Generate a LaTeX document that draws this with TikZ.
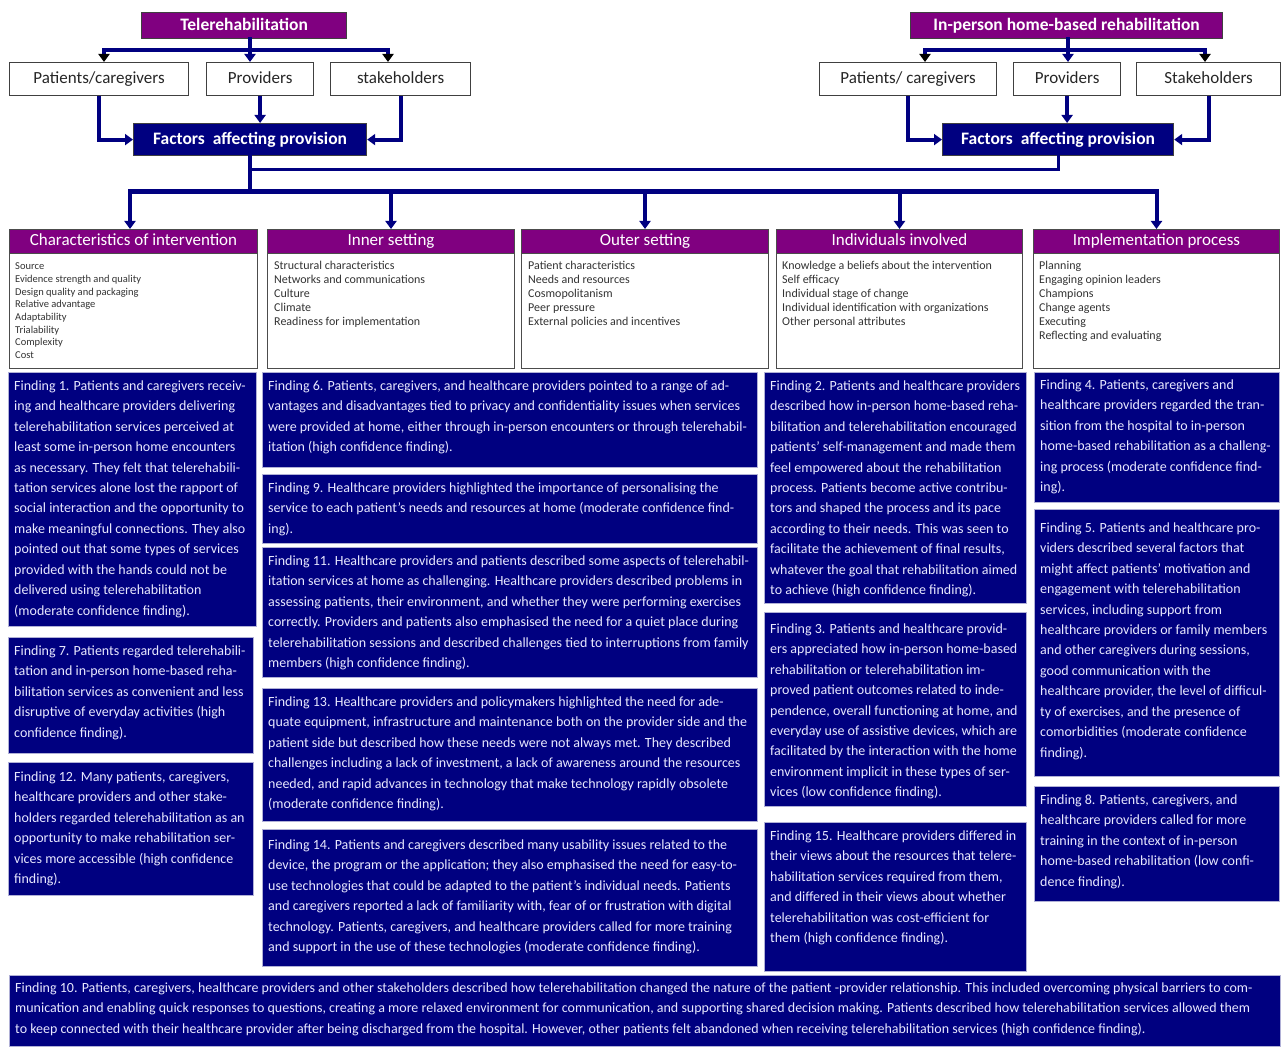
\documentclass[tikz,border=0pt]{standalone}
\usepackage{fontspec}
\setmainfont{Carlito}
\usetikzlibrary{arrows.meta}
\definecolor{hpurple}{RGB}{128,0,128}
\definecolor{hnavy}{RGB}{0,0,128}
\definecolor{ftxt}{RGB}{232,232,255}
\definecolor{fborder}{RGB}{176,176,214}
\newcommand{\fnd}[7]{%
  \node[fbox, minimum width=#4pt, minimum height=#5pt] (#1) at (#2,#3) {};
  \node[ftext] (#1t) at (#2+6,#6-10.3) {\strut #7};
}
\begin{document}
\begin{tikzpicture}[x=1pt,y=-1pt,
  topbox/.style={draw=black!75, line width=1.2pt, fill=hpurple, text=white, font=\fontsize{17.5}{19}\selectfont\bfseries, anchor=north west, inner sep=0pt, text height=12.5pt, text depth=3.5pt},
  whitebox/.style={draw=black!75, line width=1.2pt, fill=white, text=black!85, font=\fontsize{17}{19}\selectfont, anchor=north west, inner sep=0pt, text height=12.5pt, text depth=3.5pt},
  facbox/.style={draw=black!75, line width=1.2pt, fill=hnavy, text=white, font=\fontsize{17.5}{19}\selectfont\bfseries, anchor=north west, inner sep=0pt, text height=12.5pt, text depth=3.5pt},
  dhead/.style={draw=black!70, line width=1pt, fill=hpurple, text=white, font=\fontsize{17}{19}\selectfont, anchor=north west, inner sep=0pt, text height=12.5pt, text depth=3.5pt},
  dbody/.style={draw=black!70, line width=1pt, fill=white, anchor=north west, inner sep=0pt},
  ditemsA/.style={anchor=north west, inner sep=0pt, align=left, text=black!80, font=\fontsize{10.5}{12.7}\selectfont},
  ditemsB/.style={anchor=north west, inner sep=0pt, align=left, text=black!80, font=\fontsize{12}{14}\selectfont},
  fbox/.style={draw=fborder, line width=1.2pt, fill=hnavy, anchor=north west, inner sep=0pt},
  ftext/.style={anchor=north west, inner sep=0pt, align=left, text=ftxt, font=\fontsize{14}{20.45}\selectfont},
  conn/.style={draw=hnavy, line width=4pt, line cap=rect},
  arr/.style={draw=hnavy, line width=4pt, -{Triangle[width=11pt,length=8pt]}},
  arrB/.style={draw=hnavy, line width=4pt, -{Triangle[width=11pt,length=8pt,black]}},
]
\useasboundingbox (0,0) rectangle (1282,1048);

% ---------- top left ----------
\node[topbox, minimum width=205pt, minimum height=26pt] (tele) at (141,12) {Telerehabilitation};
\node[whitebox, minimum width=179pt, minimum height=33pt] (lpc) at (9,62) {Patients/caregivers};
\node[whitebox, minimum width=107pt, minimum height=33pt] (lpr) at (206,62) {Providers};
\node[whitebox, minimum width=140pt, minimum height=33pt] (lst) at (330,62) {stakeholders};
\node[facbox, minimum width=233pt, minimum height=32pt] (lfac) at (133,123) {Factors\ \ affecting provision};
\coordinate (lbarL) at (104,50);
\coordinate (lbarM) at (250,50);
\coordinate (lbarR) at (388,50);
\draw[conn] (lbarL) -- (lbarR);
\draw[conn] (tele.south -| lbarM) -- (lbarM);
\draw[arrB] (lbarL) -- (lbarL |- lpc.north);
\draw[arr] (lbarM) -- (lbarM |- lpr.north);
\draw[arrB] (lbarR) -- (lbarR |- lst.north);
\draw[arr] (lpc.south) |- (lfac.west);
\draw[arr] (lpr.south) -- (lpr.south |- lfac.north);
\draw[arr] (lst.south) |- (lfac.east);

% ---------- top right ----------
\node[topbox, minimum width=312pt, minimum height=26pt] (rtele) at (910,12) {In-person home-based rehabilitation};
\node[whitebox, minimum width=177pt, minimum height=33pt] (rpc) at (819,62) {Patients/ caregivers};
\node[whitebox, minimum width=107pt, minimum height=33pt] (rpr) at (1013,62) {Providers};
\node[whitebox, minimum width=144pt, minimum height=33pt] (rst) at (1136,62) {Stakeholders};
\node[facbox, minimum width=231pt, minimum height=32pt] (rfac) at (942,123) {Factors\ \ affecting provision};
\coordinate (rbarL) at (925,50);
\coordinate (rbarM) at (1068,50);
\coordinate (rbarR) at (1205,50);
\draw[conn] (rbarL) -- (rbarR);
\draw[conn] (rtele.south -| rbarM) -- (rbarM);
\draw[arrB] (rbarL) -- (rbarL |- rpc.north);
\draw[arr] (rbarM) -- (rbarM |- rpr.north);
\draw[arrB] (rbarR) -- (rbarR |- rst.north);
\draw[arr] (rpc.south) |- (rfac.west);
\draw[arr] (rpr.south) -- (rpr.south |- rfac.north);
\draw[arr] (rst.south) |- (rfac.east);

% ---------- domains ----------
\node[dhead, minimum width=248pt, minimum height=24pt] (d1) at (9,229) {Characteristics of intervention};
\node[dbody, minimum width=248pt, minimum height=115pt] (d1b) at (9,253) {};
\node[ditemsA] (d1i) at (15,260.6) {\strut Source\\Evidence strength and quality\\Design quality and packaging\\Relative advantage\\Adaptability\\Trialability\\Complexity\\Cost};

\node[dhead, minimum width=247pt, minimum height=24pt] (d2) at (267,229) {Inner setting};
\node[dbody, minimum width=247pt, minimum height=115pt] (d2b) at (267,253) {};
\node[ditemsB] (d2i) at (274,259.7) {\strut Structural characteristics\\Networks and communications\\Culture\\Climate\\Readiness for implementation};

\node[dhead, minimum width=247pt, minimum height=24pt] (d3) at (521,229) {Outer setting};
\node[dbody, minimum width=247pt, minimum height=115pt] (d3b) at (521,253) {};
\node[ditemsB] (d3i) at (528,259.7) {\strut Patient characteristics\\Needs and resources\\Cosmopolitanism\\Peer pressure\\External policies and incentives};

\node[dhead, minimum width=246pt, minimum height=24pt] (d4) at (776,229) {Individuals involved};
\node[dbody, minimum width=246pt, minimum height=115pt] (d4b) at (776,253) {};
\node[ditemsB] (d4i) at (782,259.7) {\strut Knowledge a beliefs about the intervention\\Self efficacy\\Individual stage of change\\Individual identification with organizations\\Other personal attributes};

\node[dhead, minimum width=246pt, minimum height=24pt] (d5) at (1033,229) {Implementation process};
\node[dbody, minimum width=246pt, minimum height=115pt] (d5b) at (1033,253) {};
\node[ditemsB] (d5i) at (1039,259.7) {\strut Planning\\Engaging opinion leaders\\Champions\\Change agents\\Executing\\Reflecting and evaluating};

% ---------- middle connectors ----------
\coordinate (jA) at (249,170);
\coordinate (jB) at (249,192);
\draw[conn, line width=3pt] (lfac.south |- jA) -| (rfac.south);
\draw[conn, line width=4.5pt] (lfac.south) -- (lfac.south |- jB);
\draw[conn, line width=5pt] (130,192) -- (d5.north |- jB);
\draw[arr] (130,192) -- (130,229);
\draw[arr] (d2.north |- jB) -- (d2.north);
\draw[arr] (d3.north |- jB) -- (d3.north);
\draw[arr] (d4.north |- jB) -- (d4.north);
\draw[arr] (d5.north |- jB) -- (d5.north);

% ---------- findings ----------
\fnd{f1}{8}{372}{248}{254}{386}{Finding 1. Patients and caregivers receiv-\\ing and healthcare providers delivering\\telerehabilitation services perceived at\\least some in-person home encounters\\as necessary. They felt that telerehabili-\\tation services alone lost the rapport of\\social interaction and the opportunity to\\make meaningful connections. They also\\pointed out that some types of services\\provided with the hands could not be\\delivered using telerehabilitation\\(moderate confidence finding).}
\fnd{f7}{8}{637}{245}{116}{651}{Finding 7. Patients regarded telerehabili-\\tation and in-person home-based reha-\\bilitation services as convenient and less\\disruptive of everyday activities (high\\confidence finding).}
\fnd{f12}{8}{762}{245}{133}{777}{Finding 12. Many patients, caregivers,\\healthcare providers and other stake-\\holders regarded telerehabilitation as an\\opportunity to make rehabilitation ser-\\vices more accessible (high confidence\\finding).}
\fnd{f6}{262}{372}{495}{95}{386}{Finding 6. Patients, caregivers, and healthcare providers pointed to a range of ad-\\vantages and disadvantages tied to privacy and confidentiality issues when services\\were provided at home, either through in-person encounters or through telerehabil-\\itation (high confidence finding).}
\fnd{f9}{262}{474}{495}{69}{488}{Finding 9. Healthcare providers highlighted the importance of personalising the\\service to each patient’s needs and resources at home (moderate confidence find-\\ing).}
\fnd{f11}{262}{547}{495}{130}{561}{Finding 11. Healthcare providers and patients described some aspects of telerehabil-\\itation services at home as challenging. Healthcare providers described problems in\\assessing patients, their environment, and whether they were performing exercises\\correctly. Providers and patients also emphasised the need for a quiet place during\\telerehabilitation sessions and described challenges tied to interruptions from family\\members (high confidence finding).}
\fnd{f13}{262}{688}{495}{133}{702}{Finding 13. Healthcare providers and policymakers highlighted the need for ade-\\quate equipment, infrastructure and maintenance both on the provider side and the\\patient side but described how these needs were not always met. They described\\challenges including a lack of investment, a lack of awareness around the resources\\needed, and rapid advances in technology that make technology rapidly obsolete\\(moderate confidence finding).}
\fnd{f14}{262}{829}{495}{137}{845}{Finding 14. Patients and caregivers described many usability issues related to the\\device, the program or the application; they also emphasised the need for easy-to-\\use technologies that could be adapted to the patient’s individual needs. Patients\\and caregivers reported a lack of familiarity with, fear of or frustration with digital\\technology. Patients, caregivers, and healthcare providers called for more training\\and support in the use of these technologies (moderate confidence finding).}
\fnd{f2}{764}{372}{262}{231}{386}{Finding 2. Patients and healthcare providers\\described how in-person home-based reha-\\bilitation and telerehabilitation encouraged\\patients’ self-management and made them\\feel empowered about the rehabilitation\\process. Patients become active contribu-\\tors and shaped the process and its pace\\according to their needs. This was seen to\\facilitate the achievement of final results,\\whatever the goal that rehabilitation aimed\\to achieve (high confidence finding).}
\fnd{f3}{764}{612}{262}{194}{629}{Finding 3. Patients and healthcare provid-\\ers appreciated how in-person home-based\\rehabilitation or telerehabilitation im-\\proved patient outcomes related to inde-\\pendence, overall functioning at home, and\\everyday use of assistive devices, which are\\facilitated by the interaction with the home\\environment implicit in these types of ser-\\vices (low confidence finding).}
\fnd{f15}{764}{822}{262}{149}{836}{Finding 15. Healthcare providers differed in\\their views about the resources that telere-\\habilitation services required from them,\\and differed in their views about whether\\telerehabilitation was cost-efficient for\\them (high confidence finding).}
\fnd{f4}{1034}{372}{245}{130}{385}{Finding 4. Patients, caregivers and\\healthcare providers regarded the tran-\\sition from the hospital to in-person\\home-based rehabilitation as a challeng-\\ing process (moderate confidence find-\\ing).}
\fnd{f5}{1034}{509}{245}{267}{528}{Finding 5. Patients and healthcare pro-\\viders described several factors that\\might affect patients’ motivation and\\engagement with telerehabilitation\\services, including support from\\healthcare providers or family members\\and other caregivers during sessions,\\good communication with the\\healthcare provider, the level of difficul-\\ty of exercises, and the presence of\\comorbidities (moderate confidence\\finding).}
\fnd{f8}{1034}{786}{245}{115}{800}{Finding 8. Patients, caregivers, and\\healthcare providers called for more\\training in the context of in-person\\home-based rehabilitation (low confi-\\dence finding).}
\fnd{f10}{9}{975}{1271}{71}{988}{Finding 10. Patients, caregivers, healthcare providers and other stakeholders described how telerehabilitation changed the nature of the patient -provider relationship. This included overcoming physical barriers to com-\\munication and enabling quick responses to questions, creating a more relaxed environment for communication, and supporting shared decision making. Patients described how telerehabilitation services allowed them\\to keep connected with their healthcare provider after being discharged from the hospital. However, other patients felt abandoned when receiving telerehabilitation services (high confidence finding).}
\end{tikzpicture}
\end{document}
